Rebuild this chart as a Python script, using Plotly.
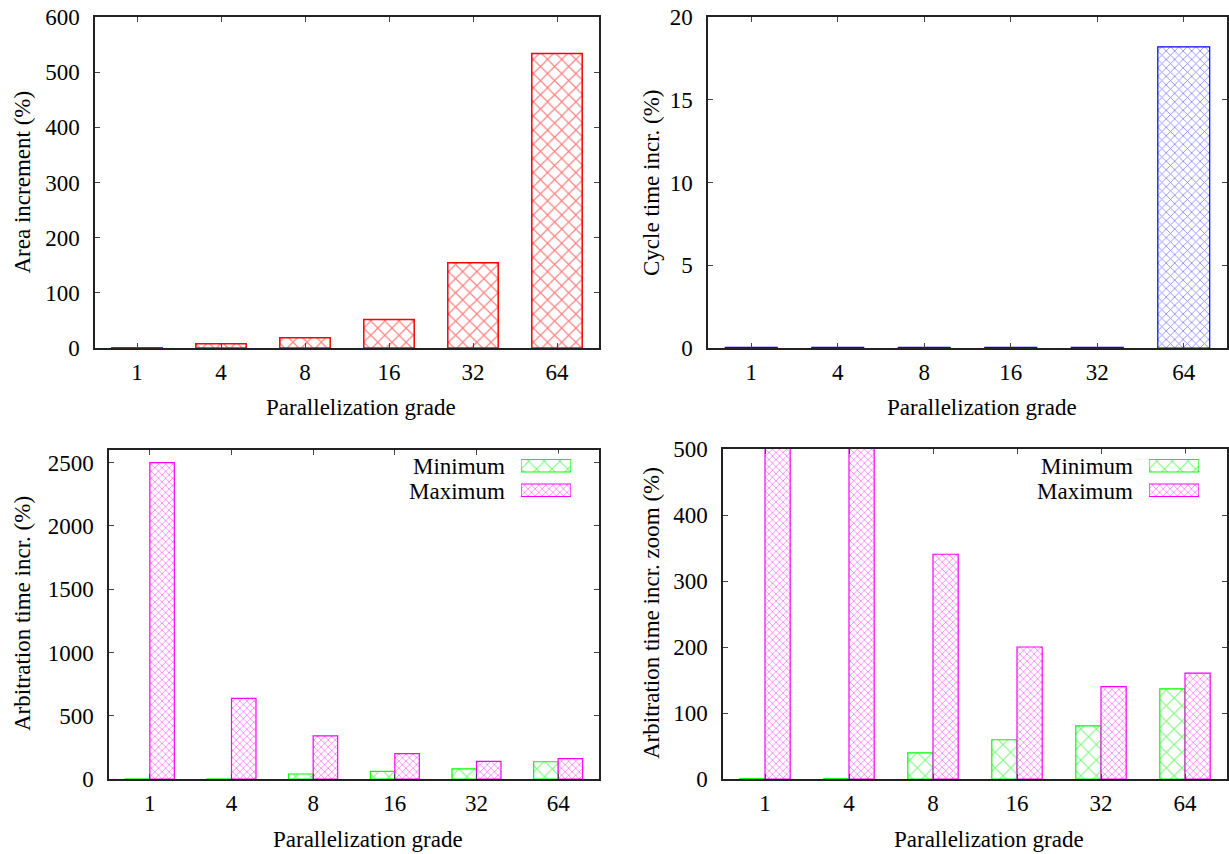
import plotly.graph_objects as go

W, H = 1229, 854

grades = ["1", "4", "8", "16", "32", "64"]
area_increment = [0.5, 7.8, 18.7, 51.5, 154.5, 534.0]
cycle_time_incr = [0.04, 0.04, 0.04, 0.04, 0.04, 18.2]
arb_min = [0.5, 0.5, 39.5, 59.5, 80.5, 136.5]
arb_max = [2500, 637, 340.5, 200, 140, 160.5]

y1_ticks = [0, 100, 200, 300, 400, 500, 600]
y2_ticks = [0, 5, 10, 15, 20]
y3_ticks = [0, 500, 1000, 1500, 2000, 2500]
y4_ticks = [0, 100, 200, 300, 400, 500]
legend_names = ["Minimum", "Maximum"]

FONT = "Liberation Serif"
FS = 23


def px(x):
    return x / W


def py(y):
    return 1 - y / H


fig = go.Figure()

# Panel 1
fig.add_trace(go.Bar(x=grades, y=area_increment, xaxis="x", yaxis="y",
                     marker=dict(color="white", line=dict(color="red", width=1.5),
                                 pattern=dict(shape="x", fgcolor="red", bgcolor="white",
                                              size=10, solidity=0.22)),
                     showlegend=False))
# Panel 2
fig.add_trace(go.Bar(x=grades, y=cycle_time_incr, xaxis="x2", yaxis="y2",
                     marker=dict(color="white", line=dict(color="blue", width=1.2),
                                 pattern=dict(shape="x", fgcolor="blue", bgcolor="white",
                                              size=6, solidity=0.25)),
                     showlegend=False))

min_marker = dict(color="white", line=dict(color="#00ff00", width=1.2),
                  pattern=dict(shape="x", fgcolor="#00ee00", bgcolor="white", size=11, solidity=0.2))
max_marker = dict(color="white", line=dict(color="#ff00ff", width=1.2),
                  pattern=dict(shape="x", fgcolor="#ff00ff", bgcolor="white", size=5, solidity=0.3))

for xa, ya in (("x3", "y3"), ("x4", "y4")):
    fig.add_trace(go.Bar(x=grades, y=arb_min, xaxis=xa, yaxis=ya, name=legend_names[0],
                         marker=min_marker, showlegend=False))
    fig.add_trace(go.Bar(x=grades, y=arb_max, xaxis=xa, yaxis=ya, name=legend_names[1],
                         marker=max_marker, showlegend=False))

# custom legend swatches (gnuplot style: text left of swatch)
for xa, ya in (("x5", "y5"), ("x6", "y6")):
    fig.add_trace(go.Bar(y=[1.5], x=[1], orientation="h", width=0.51, offset=-0.255,
                         xaxis=xa, yaxis=ya, marker=min_marker, showlegend=False, hoverinfo="skip"))
    fig.add_trace(go.Bar(y=[0.5], x=[1], orientation="h", width=0.51, offset=-0.255,
                         xaxis=xa, yaxis=ya, marker=max_marker, showlegend=False, hoverinfo="skip"))


def xaxis_cfg(x0, x1, anchor):
    return dict(domain=[px(x0), px(x1)], anchor=anchor, type="category",
                range=[-0.5, 5.5], showline=True, linecolor="#222", linewidth=1.5,
                mirror="allticks", ticks="inside", ticklen=5, tickcolor="#444", tickwidth=1,
                tickfont=dict(family=FONT, size=FS, color="black"), automargin=False,
                ticklabelstandoff=3, showgrid=False, zeroline=False, fixedrange=True)


def yaxis_cfg(y_top, y_bot, anchor, rng, ticks):
    return dict(domain=[py(y_bot), py(y_top)], anchor=anchor, range=rng,
                tickvals=ticks, showline=True, linecolor="#222", linewidth=1.5,
                mirror="allticks", ticks="inside", ticklen=5, tickcolor="#444", tickwidth=1,
                tickfont=dict(family=FONT, size=FS, color="black"), automargin=False,
                ticklabelstandoff=9, showgrid=False, zeroline=False, fixedrange=True)


def hidden(dom, anchor, rng):
    return dict(domain=dom, anchor=anchor, range=rng, visible=False,
                fixedrange=True, automargin=False)


layout = dict(
    width=W, height=H, margin=dict(l=0, r=0, t=0, b=0, pad=0, autoexpand=False),
    paper_bgcolor="white", plot_bgcolor="white",
    barmode="group", bargap=0.4, bargroupgap=0,
    font=dict(family=FONT, size=FS, color="black"),
    showlegend=False,
    xaxis=xaxis_cfg(95, 599, "y"),
    yaxis=yaxis_cfg(17, 348, "x", [0, 600], y1_ticks),
    xaxis2=xaxis_cfg(708, 1227, "y2"),
    yaxis2=yaxis_cfg(17, 348, "x2", [0, 20], y2_ticks),
    xaxis3=xaxis_cfg(109, 599, "y3"),
    yaxis3=yaxis_cfg(450, 779, "x3", [0, 2600], y3_ticks),
    xaxis4=xaxis_cfg(723, 1227, "y4"),
    yaxis4=yaxis_cfg(449, 779, "x4", [0, 500], y4_ticks),
    xaxis5=hidden([px(521), px(571)], "y5", [0, 1]),
    yaxis5=hidden([py(502.5), py(453.5)], "x5", [0, 2]),
    xaxis6=hidden([px(1149), px(1199)], "y6", [0, 1]),
    yaxis6=hidden([py(502.5), py(453.5)], "x6", [0, 2]),
)
fig.update_layout(**layout)

ann = []


def text(x, y, s, angle=0, xanchor="center", height=None):
    a = dict(x=px(x), y=py(y), xref="paper", yref="paper", text=s, showarrow=False,
             textangle=angle, xanchor=xanchor, yanchor="middle",
             font=dict(family=FONT, size=FS, color="black"))
    if height:
        a["height"] = height
    ann.append(a)


text(361, 407, "Parallelization grade")
text(982, 407, "Parallelization grade")
text(368, 839, "Parallelization grade")
text(989, 839, "Parallelization grade")
text(21.5, 182, "Area increment (%)", -90)
text(651, 182, "Cycle time incr. (%)", -90)
text(22, 614, "Arbitration time incr. (%)", -90)
text(651, 613, "Arbitration time incr. zoom (%)", -90)
# legend labels
text(507, 466, legend_names[0], xanchor="right", height=24)
text(507, 490.5, legend_names[1], xanchor="right", height=24)
text(1135, 466, legend_names[0], xanchor="right", height=24)
text(1135, 490.5, legend_names[1], xanchor="right", height=24)

fig.update_layout(annotations=ann)
fig.write_html("out.html")
